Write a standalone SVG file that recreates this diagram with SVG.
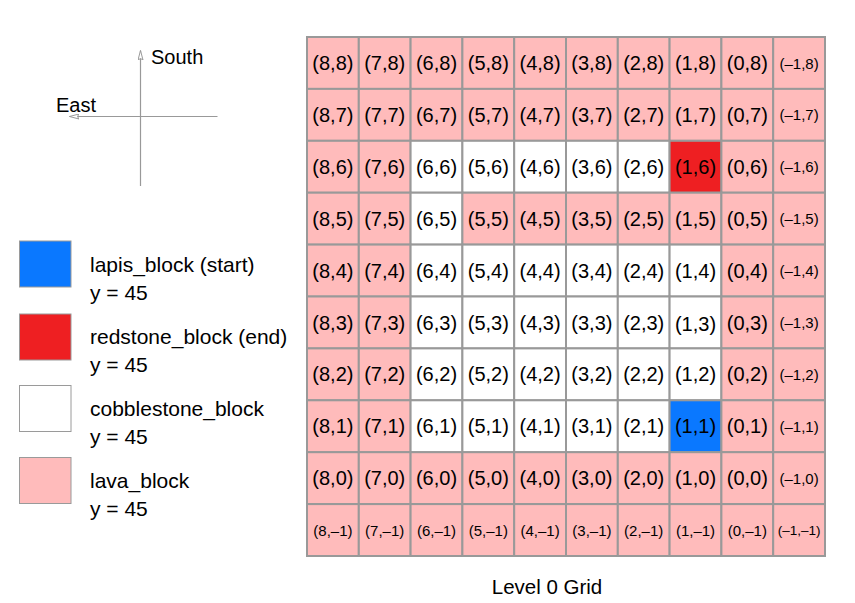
<svg xmlns="http://www.w3.org/2000/svg" width="855" height="603" viewBox="0 0 855 603">
<style>
text{font-family:"Liberation Sans",Arial,Helvetica,sans-serif;fill:#000}
.t{font-size:20px;text-anchor:middle}
.s{font-size:15px;text-anchor:middle}
.xs{font-size:13.5px;text-anchor:middle}
.lg{font-size:21px}
.cell{stroke:#999;stroke-width:2}
.L{fill:#FFBBBB}
.W{fill:#FFFFFF}
.B{fill:#0A78FF}
.R{fill:#EE1F22}
.sw{stroke:#9a9a9a;stroke-width:1}
.ax{stroke:#999;stroke-width:1.2;fill:none}
</style>
<defs>
<marker id="arr" viewBox="0 0 10 6" refX="9.5" refY="3" markerWidth="10" markerHeight="6" markerUnits="userSpaceOnUse" orient="auto">
<path d="M0,0.5 L9.5,3 L0,5.5 L1.5,3 Z" fill="#fff" stroke="#999" stroke-width="1"/>
</marker>
</defs>
<rect width="855" height="603" fill="#fff"/>
<g id="compass">
<line class="ax" x1="140.5" y1="186" x2="140.5" y2="50.5" marker-end="url(#arr)"/>
<line class="ax" x1="217.5" y1="116.5" x2="69.5" y2="116.5" marker-end="url(#arr)"/>
<text x="151" y="64" style="font-size:20px">South</text>
<text x="56" y="112" style="font-size:20px">East</text>
</g>
<g id="legend">
<g id="legend-lapis"><rect class="sw B" x="19.5" y="241" width="51.5" height="46"/><text class="lg" x="90" y="272">lapis_block (start)</text><text class="lg" x="90" y="300">y = 45</text></g>
<g id="legend-redstone"><rect class="sw R" x="19.5" y="314" width="51.5" height="46"/><text class="lg" x="90" y="344">redstone_block (end)</text><text class="lg" x="90" y="372">y = 45</text></g>
<g id="legend-cobblestone"><rect class="sw W" x="19.5" y="385.5" width="51.5" height="46"/><text class="lg" x="90" y="416">cobblestone_block</text><text class="lg" x="90" y="444">y = 45</text></g>
<g id="legend-lava"><rect class="sw L" x="19.5" y="457.5" width="51.5" height="46"/><text class="lg" x="90" y="488">lava_block</text><text class="lg" x="90" y="516">y = 45</text></g>
</g>
<g id="grid">
<!-- row 8 -->
<g id="c8_8"><rect class="cell L" x="307" y="37" width="51.8" height="51.9"/><text class="t" x="332.9" y="70">(8,8)</text></g>
<g id="c7_8"><rect class="cell L" x="358.8" y="37" width="51.8" height="51.9"/><text class="t" x="384.7" y="70">(7,8)</text></g>
<g id="c6_8"><rect class="cell L" x="410.6" y="37" width="51.8" height="51.9"/><text class="t" x="436.5" y="70">(6,8)</text></g>
<g id="c5_8"><rect class="cell L" x="462.4" y="37" width="51.8" height="51.9"/><text class="t" x="488.3" y="70">(5,8)</text></g>
<g id="c4_8"><rect class="cell L" x="514.2" y="37" width="51.8" height="51.9"/><text class="t" x="540.1" y="70">(4,8)</text></g>
<g id="c3_8"><rect class="cell L" x="566" y="37" width="51.8" height="51.9"/><text class="t" x="591.9" y="70">(3,8)</text></g>
<g id="c2_8"><rect class="cell L" x="617.8" y="37" width="51.8" height="51.9"/><text class="t" x="643.7" y="70">(2,8)</text></g>
<g id="c1_8"><rect class="cell L" x="669.6" y="37" width="51.8" height="51.9"/><text class="t" x="695.5" y="70">(1,8)</text></g>
<g id="c0_8"><rect class="cell L" x="721.4" y="37" width="51.8" height="51.9"/><text class="t" x="747.3" y="70">(0,8)</text></g>
<g id="cm1_8"><rect class="cell L" x="773.2" y="37" width="51.8" height="51.9"/><text class="s" x="799.1" y="68.5">(–1,8)</text></g>
<!-- row 7 -->
<g id="c8_7"><rect class="cell L" x="307" y="88.9" width="51.8" height="51.9"/><text class="t" x="332.9" y="121.9">(8,7)</text></g>
<g id="c7_7"><rect class="cell L" x="358.8" y="88.9" width="51.8" height="51.9"/><text class="t" x="384.7" y="121.9">(7,7)</text></g>
<g id="c6_7"><rect class="cell L" x="410.6" y="88.9" width="51.8" height="51.9"/><text class="t" x="436.5" y="121.9">(6,7)</text></g>
<g id="c5_7"><rect class="cell L" x="462.4" y="88.9" width="51.8" height="51.9"/><text class="t" x="488.3" y="121.9">(5,7)</text></g>
<g id="c4_7"><rect class="cell L" x="514.2" y="88.9" width="51.8" height="51.9"/><text class="t" x="540.1" y="121.9">(4,7)</text></g>
<g id="c3_7"><rect class="cell L" x="566" y="88.9" width="51.8" height="51.9"/><text class="t" x="591.9" y="121.9">(3,7)</text></g>
<g id="c2_7"><rect class="cell L" x="617.8" y="88.9" width="51.8" height="51.9"/><text class="t" x="643.7" y="121.9">(2,7)</text></g>
<g id="c1_7"><rect class="cell L" x="669.6" y="88.9" width="51.8" height="51.9"/><text class="t" x="695.5" y="121.9">(1,7)</text></g>
<g id="c0_7"><rect class="cell L" x="721.4" y="88.9" width="51.8" height="51.9"/><text class="t" x="747.3" y="121.9">(0,7)</text></g>
<g id="cm1_7"><rect class="cell L" x="773.2" y="88.9" width="51.8" height="51.9"/><text class="s" x="799.1" y="120.4">(–1,7)</text></g>
<!-- row 6 -->
<g id="c8_6"><rect class="cell L" x="307" y="140.8" width="51.8" height="51.9"/><text class="t" x="332.9" y="173.8">(8,6)</text></g>
<g id="c7_6"><rect class="cell L" x="358.8" y="140.8" width="51.8" height="51.9"/><text class="t" x="384.7" y="173.8">(7,6)</text></g>
<g id="c6_6"><rect class="cell W" x="410.6" y="140.8" width="51.8" height="51.9"/><text class="t" x="436.5" y="173.8">(6,6)</text></g>
<g id="c5_6"><rect class="cell W" x="462.4" y="140.8" width="51.8" height="51.9"/><text class="t" x="488.3" y="173.8">(5,6)</text></g>
<g id="c4_6"><rect class="cell W" x="514.2" y="140.8" width="51.8" height="51.9"/><text class="t" x="540.1" y="173.8">(4,6)</text></g>
<g id="c3_6"><rect class="cell W" x="566" y="140.8" width="51.8" height="51.9"/><text class="t" x="591.9" y="173.8">(3,6)</text></g>
<g id="c2_6"><rect class="cell W" x="617.8" y="140.8" width="51.8" height="51.9"/><text class="t" x="643.7" y="173.8">(2,6)</text></g>
<g id="c1_6"><rect class="cell R" x="669.6" y="140.8" width="51.8" height="51.9"/><text class="t" x="695.5" y="173.8">(1,6)</text></g>
<g id="c0_6"><rect class="cell L" x="721.4" y="140.8" width="51.8" height="51.9"/><text class="t" x="747.3" y="173.8">(0,6)</text></g>
<g id="cm1_6"><rect class="cell L" x="773.2" y="140.8" width="51.8" height="51.9"/><text class="s" x="799.1" y="172.3">(–1,6)</text></g>
<!-- row 5 -->
<g id="c8_5"><rect class="cell L" x="307" y="192.7" width="51.8" height="51.9"/><text class="t" x="332.9" y="225.7">(8,5)</text></g>
<g id="c7_5"><rect class="cell L" x="358.8" y="192.7" width="51.8" height="51.9"/><text class="t" x="384.7" y="225.7">(7,5)</text></g>
<g id="c6_5"><rect class="cell W" x="410.6" y="192.7" width="51.8" height="51.9"/><text class="t" x="436.5" y="225.7">(6,5)</text></g>
<g id="c5_5"><rect class="cell L" x="462.4" y="192.7" width="51.8" height="51.9"/><text class="t" x="488.3" y="225.7">(5,5)</text></g>
<g id="c4_5"><rect class="cell L" x="514.2" y="192.7" width="51.8" height="51.9"/><text class="t" x="540.1" y="225.7">(4,5)</text></g>
<g id="c3_5"><rect class="cell L" x="566" y="192.7" width="51.8" height="51.9"/><text class="t" x="591.9" y="225.7">(3,5)</text></g>
<g id="c2_5"><rect class="cell L" x="617.8" y="192.7" width="51.8" height="51.9"/><text class="t" x="643.7" y="225.7">(2,5)</text></g>
<g id="c1_5"><rect class="cell L" x="669.6" y="192.7" width="51.8" height="51.9"/><text class="t" x="695.5" y="225.7">(1,5)</text></g>
<g id="c0_5"><rect class="cell L" x="721.4" y="192.7" width="51.8" height="51.9"/><text class="t" x="747.3" y="225.7">(0,5)</text></g>
<g id="cm1_5"><rect class="cell L" x="773.2" y="192.7" width="51.8" height="51.9"/><text class="s" x="799.1" y="224.2">(–1,5)</text></g>
<!-- row 4 -->
<g id="c8_4"><rect class="cell L" x="307" y="244.6" width="51.8" height="51.9"/><text class="t" x="332.9" y="277.6">(8,4)</text></g>
<g id="c7_4"><rect class="cell L" x="358.8" y="244.6" width="51.8" height="51.9"/><text class="t" x="384.7" y="277.6">(7,4)</text></g>
<g id="c6_4"><rect class="cell W" x="410.6" y="244.6" width="51.8" height="51.9"/><text class="t" x="436.5" y="277.6">(6,4)</text></g>
<g id="c5_4"><rect class="cell W" x="462.4" y="244.6" width="51.8" height="51.9"/><text class="t" x="488.3" y="277.6">(5,4)</text></g>
<g id="c4_4"><rect class="cell W" x="514.2" y="244.6" width="51.8" height="51.9"/><text class="t" x="540.1" y="277.6">(4,4)</text></g>
<g id="c3_4"><rect class="cell W" x="566" y="244.6" width="51.8" height="51.9"/><text class="t" x="591.9" y="277.6">(3,4)</text></g>
<g id="c2_4"><rect class="cell W" x="617.8" y="244.6" width="51.8" height="51.9"/><text class="t" x="643.7" y="277.6">(2,4)</text></g>
<g id="c1_4"><rect class="cell W" x="669.6" y="244.6" width="51.8" height="51.9"/><text class="t" x="695.5" y="277.6">(1,4)</text></g>
<g id="c0_4"><rect class="cell L" x="721.4" y="244.6" width="51.8" height="51.9"/><text class="t" x="747.3" y="277.6">(0,4)</text></g>
<g id="cm1_4"><rect class="cell L" x="773.2" y="244.6" width="51.8" height="51.9"/><text class="s" x="799.1" y="276.1">(–1,4)</text></g>
<!-- row 3 -->
<g id="c8_3"><rect class="cell L" x="307" y="296.5" width="51.8" height="51.9"/><text class="t" x="332.9" y="329.5">(8,3)</text></g>
<g id="c7_3"><rect class="cell L" x="358.8" y="296.5" width="51.8" height="51.9"/><text class="t" x="384.7" y="329.5">(7,3)</text></g>
<g id="c6_3"><rect class="cell W" x="410.6" y="296.5" width="51.8" height="51.9"/><text class="t" x="436.5" y="329.5">(6,3)</text></g>
<g id="c5_3"><rect class="cell W" x="462.4" y="296.5" width="51.8" height="51.9"/><text class="t" x="488.3" y="329.5">(5,3)</text></g>
<g id="c4_3"><rect class="cell W" x="514.2" y="296.5" width="51.8" height="51.9"/><text class="t" x="540.1" y="329.5">(4,3)</text></g>
<g id="c3_3"><rect class="cell W" x="566" y="296.5" width="51.8" height="51.9"/><text class="t" x="591.9" y="329.5">(3,3)</text></g>
<g id="c2_3"><rect class="cell W" x="617.8" y="296.5" width="51.8" height="51.9"/><text class="t" x="643.7" y="329.5">(2,3)</text></g>
<g id="c1_3"><rect class="cell W" x="669.6" y="296.5" width="51.8" height="51.9"/><text class="t" x="695.5" y="331">(1,3)</text></g>
<g id="c0_3"><rect class="cell L" x="721.4" y="296.5" width="51.8" height="51.9"/><text class="t" x="747.3" y="329.5">(0,3)</text></g>
<g id="cm1_3"><rect class="cell L" x="773.2" y="296.5" width="51.8" height="51.9"/><text class="s" x="799.1" y="328">(–1,3)</text></g>
<!-- row 2 -->
<g id="c8_2"><rect class="cell L" x="307" y="348.4" width="51.8" height="51.9"/><text class="t" x="332.9" y="381.4">(8,2)</text></g>
<g id="c7_2"><rect class="cell L" x="358.8" y="348.4" width="51.8" height="51.9"/><text class="t" x="384.7" y="381.4">(7,2)</text></g>
<g id="c6_2"><rect class="cell W" x="410.6" y="348.4" width="51.8" height="51.9"/><text class="t" x="436.5" y="381.4">(6,2)</text></g>
<g id="c5_2"><rect class="cell W" x="462.4" y="348.4" width="51.8" height="51.9"/><text class="t" x="488.3" y="381.4">(5,2)</text></g>
<g id="c4_2"><rect class="cell W" x="514.2" y="348.4" width="51.8" height="51.9"/><text class="t" x="540.1" y="381.4">(4,2)</text></g>
<g id="c3_2"><rect class="cell W" x="566" y="348.4" width="51.8" height="51.9"/><text class="t" x="591.9" y="381.4">(3,2)</text></g>
<g id="c2_2"><rect class="cell W" x="617.8" y="348.4" width="51.8" height="51.9"/><text class="t" x="643.7" y="381.4">(2,2)</text></g>
<g id="c1_2"><rect class="cell W" x="669.6" y="348.4" width="51.8" height="51.9"/><text class="t" x="695.5" y="381.4">(1,2)</text></g>
<g id="c0_2"><rect class="cell L" x="721.4" y="348.4" width="51.8" height="51.9"/><text class="t" x="747.3" y="381.4">(0,2)</text></g>
<g id="cm1_2"><rect class="cell L" x="773.2" y="348.4" width="51.8" height="51.9"/><text class="s" x="799.1" y="379.9">(–1,2)</text></g>
<!-- row 1 -->
<g id="c8_1"><rect class="cell L" x="307" y="400.3" width="51.8" height="51.9"/><text class="t" x="332.9" y="433.3">(8,1)</text></g>
<g id="c7_1"><rect class="cell L" x="358.8" y="400.3" width="51.8" height="51.9"/><text class="t" x="384.7" y="433.3">(7,1)</text></g>
<g id="c6_1"><rect class="cell W" x="410.6" y="400.3" width="51.8" height="51.9"/><text class="t" x="436.5" y="433.3">(6,1)</text></g>
<g id="c5_1"><rect class="cell W" x="462.4" y="400.3" width="51.8" height="51.9"/><text class="t" x="488.3" y="433.3">(5,1)</text></g>
<g id="c4_1"><rect class="cell W" x="514.2" y="400.3" width="51.8" height="51.9"/><text class="t" x="540.1" y="433.3">(4,1)</text></g>
<g id="c3_1"><rect class="cell W" x="566" y="400.3" width="51.8" height="51.9"/><text class="t" x="591.9" y="433.3">(3,1)</text></g>
<g id="c2_1"><rect class="cell W" x="617.8" y="400.3" width="51.8" height="51.9"/><text class="t" x="643.7" y="433.3">(2,1)</text></g>
<g id="c1_1"><rect class="cell B" x="669.6" y="400.3" width="51.8" height="51.9"/><text class="t" x="695.5" y="433.3">(1,1)</text></g>
<g id="c0_1"><rect class="cell L" x="721.4" y="400.3" width="51.8" height="51.9"/><text class="t" x="747.3" y="433.3">(0,1)</text></g>
<g id="cm1_1"><rect class="cell L" x="773.2" y="400.3" width="51.8" height="51.9"/><text class="s" x="799.1" y="431.8">(–1,1)</text></g>
<!-- row 0 -->
<g id="c8_0"><rect class="cell L" x="307" y="452.2" width="51.8" height="51.9"/><text class="t" x="332.9" y="485.2">(8,0)</text></g>
<g id="c7_0"><rect class="cell L" x="358.8" y="452.2" width="51.8" height="51.9"/><text class="t" x="384.7" y="485.2">(7,0)</text></g>
<g id="c6_0"><rect class="cell L" x="410.6" y="452.2" width="51.8" height="51.9"/><text class="t" x="436.5" y="485.2">(6,0)</text></g>
<g id="c5_0"><rect class="cell L" x="462.4" y="452.2" width="51.8" height="51.9"/><text class="t" x="488.3" y="485.2">(5,0)</text></g>
<g id="c4_0"><rect class="cell L" x="514.2" y="452.2" width="51.8" height="51.9"/><text class="t" x="540.1" y="485.2">(4,0)</text></g>
<g id="c3_0"><rect class="cell L" x="566" y="452.2" width="51.8" height="51.9"/><text class="t" x="591.9" y="485.2">(3,0)</text></g>
<g id="c2_0"><rect class="cell L" x="617.8" y="452.2" width="51.8" height="51.9"/><text class="t" x="643.7" y="485.2">(2,0)</text></g>
<g id="c1_0"><rect class="cell L" x="669.6" y="452.2" width="51.8" height="51.9"/><text class="t" x="695.5" y="485.2">(1,0)</text></g>
<g id="c0_0"><rect class="cell L" x="721.4" y="452.2" width="51.8" height="51.9"/><text class="t" x="747.3" y="485.2">(0,0)</text></g>
<g id="cm1_0"><rect class="cell L" x="773.2" y="452.2" width="51.8" height="51.9"/><text class="s" x="799.1" y="483.7">(–1,0)</text></g>
<!-- row -1 -->
<g id="c8_m1"><rect class="cell L" x="307" y="504.1" width="51.8" height="51.9"/><text class="s" x="332.9" y="535.6">(8,–1)</text></g>
<g id="c7_m1"><rect class="cell L" x="358.8" y="504.1" width="51.8" height="51.9"/><text class="s" x="384.7" y="535.6">(7,–1)</text></g>
<g id="c6_m1"><rect class="cell L" x="410.6" y="504.1" width="51.8" height="51.9"/><text class="s" x="436.5" y="535.6">(6,–1)</text></g>
<g id="c5_m1"><rect class="cell L" x="462.4" y="504.1" width="51.8" height="51.9"/><text class="s" x="488.3" y="535.6">(5,–1)</text></g>
<g id="c4_m1"><rect class="cell L" x="514.2" y="504.1" width="51.8" height="51.9"/><text class="s" x="540.1" y="535.6">(4,–1)</text></g>
<g id="c3_m1"><rect class="cell L" x="566" y="504.1" width="51.8" height="51.9"/><text class="s" x="591.9" y="535.6">(3,–1)</text></g>
<g id="c2_m1"><rect class="cell L" x="617.8" y="504.1" width="51.8" height="51.9"/><text class="s" x="643.7" y="535.6">(2,–1)</text></g>
<g id="c1_m1"><rect class="cell L" x="669.6" y="504.1" width="51.8" height="51.9"/><text class="s" x="695.5" y="536.4">(1,–1)</text></g>
<g id="c0_m1"><rect class="cell L" x="721.4" y="504.1" width="51.8" height="51.9"/><text class="s" x="747.3" y="535.6">(0,–1)</text></g>
<g id="cm1_m1"><rect class="cell L" x="773.2" y="504.1" width="51.8" height="51.9"/><text class="xs" x="799.1" y="535">(–1,–1)</text></g>
</g>
<g id="caption"><text x="547" y="594" style="font-size:20.5px;text-anchor:middle">Level 0 Grid</text></g>
<g id="connectors"></g>
</svg>
